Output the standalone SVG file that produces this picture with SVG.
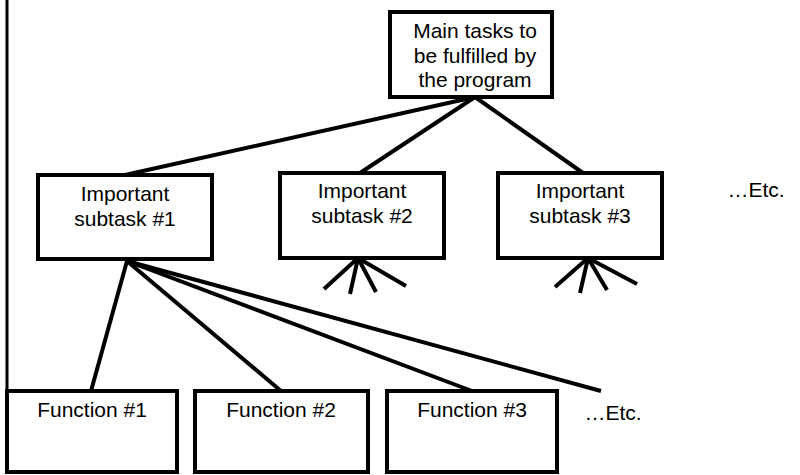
<svg xmlns="http://www.w3.org/2000/svg" width="800" height="475" viewBox="0 0 800 475">
<style>
.box{fill:#fff;stroke:#000;stroke-width:4}
.t{font-family:"Liberation Sans",Arial,sans-serif;font-size:21px;fill:#000;text-anchor:middle}
.c{stroke:#000;stroke-width:4;fill:none;stroke-linecap:butt}
</style>
<rect width="800" height="475" fill="#fff"/>
<g id="frame"><line x1="7" y1="0" x2="7" y2="473" stroke="#000" stroke-width="3"/></g>
<g id="connectors">
<line class="c" x1="475" y1="97" x2="125" y2="175"/>
<line class="c" x1="475" y1="97" x2="360" y2="173"/>
<line class="c" x1="475" y1="97" x2="583" y2="173"/>
<line class="c" x1="127" y1="261" x2="91" y2="391"/>
<line class="c" x1="127" y1="261" x2="281" y2="391"/>
<line class="c" x1="127" y1="261" x2="472" y2="391"/>
<line class="c" x1="127" y1="261" x2="601" y2="391"/>
<line class="c" x1="358" y1="258" x2="324" y2="289"/>
<line class="c" x1="358" y1="258" x2="350" y2="294"/>
<line class="c" x1="358" y1="258" x2="376" y2="292"/>
<line class="c" x1="358" y1="258" x2="406" y2="286"/>
<line class="c" x1="588" y1="258" x2="555" y2="287"/>
<line class="c" x1="588" y1="258" x2="580" y2="293"/>
<line class="c" x1="588" y1="258" x2="607" y2="290"/>
<line class="c" x1="588" y1="258" x2="637" y2="284"/>
</g>
<g id="main">
<rect class="box" x="390" y="12" width="162" height="85"/>
<text class="t" x="475" y="38">Main tasks to</text>
<text class="t" x="475" y="62.5">be fulfilled by</text>
<text class="t" x="475" y="87">the program</text>
</g>
<g id="sub1">
<rect class="box" x="38" y="175" width="174" height="84"/>
<text class="t" x="125" y="201">Important</text>
<text class="t" x="125" y="226">subtask #1</text>
</g>
<g id="sub2">
<rect class="box" x="280" y="173" width="164" height="85"/>
<text class="t" x="362" y="198">Important</text>
<text class="t" x="362" y="223">subtask #2</text>
</g>
<g id="sub3">
<rect class="box" x="498" y="173" width="164" height="85"/>
<text class="t" x="580" y="198">Important</text>
<text class="t" x="580" y="223">subtask #3</text>
</g>
<g id="etc1"><text class="t" x="756" y="197">…Etc.</text></g>
<g id="f1">
<rect class="box" x="7" y="391" width="170" height="81"/>
<text class="t" x="92" y="417">Function #1</text>
</g>
<g id="f2">
<rect class="box" x="195" y="391" width="173" height="81"/>
<text class="t" x="281" y="417">Function #2</text>
</g>
<g id="f3">
<rect class="box" x="387" y="391" width="170" height="81"/>
<text class="t" x="472" y="417">Function #3</text>
</g>
<g id="etc2"><text class="t" x="613" y="420">…Etc.</text></g>
</svg>
